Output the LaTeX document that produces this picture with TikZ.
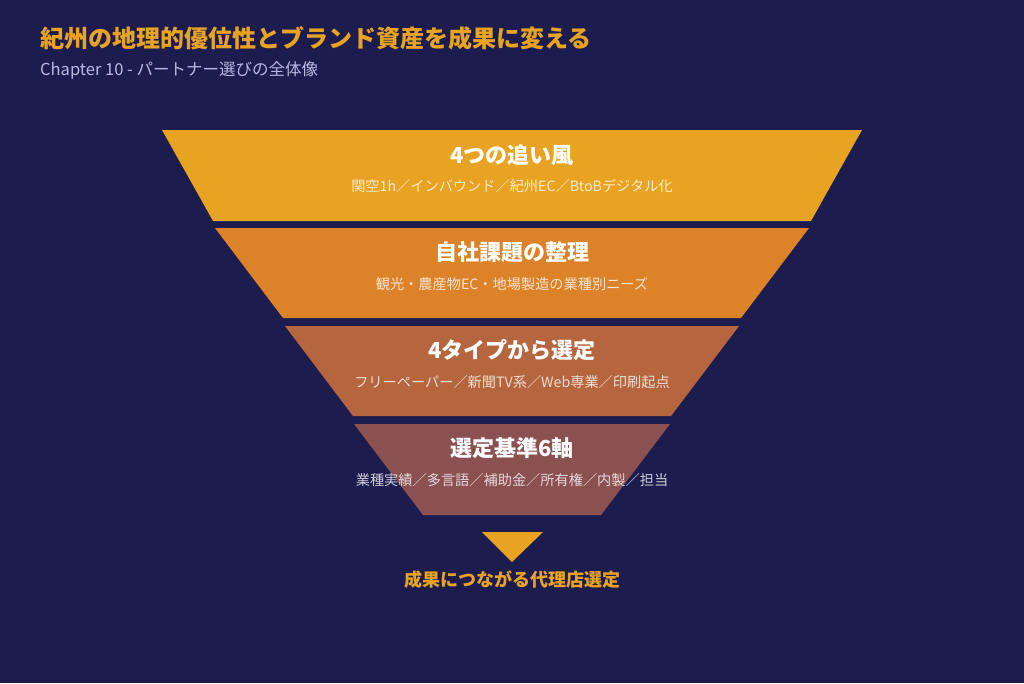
\documentclass[tikz,border=0pt]{standalone}
\usepackage{fontspec}
\setmainfont{Noto Sans CJK JP}
\usetikzlibrary{positioning}
\definecolor{bgnavy}{RGB}{29,28,79}
\definecolor{headline}{RGB}{232,163,34}
\definecolor{subhead}{RGB}{184,184,226}
\definecolor{bandone}{RGB}{232,163,34}
\definecolor{bandtwo}{RGB}{220,130,41}
\definecolor{bandthree}{RGB}{181,102,62}
\definecolor{bandfour}{RGB}{139,80,80}

\begin{document}
\begin{tikzpicture}[
    x=1pt, y=-1pt,
    headtitle/.style={anchor=west, inner sep=0pt, text=headline, font=\bfseries\fontsize{24}{28}\selectfont},
    headsub/.style={anchor=west, inner sep=0pt, text=subhead, font=\fontsize{16.5}{19}\selectfont},
    bandtitle/.style={inner sep=0pt, text=white, font=\bfseries\fontsize{22}{26}\selectfont},
    bandsub/.style={inner sep=0pt, text=white, text opacity=0.78, font=\fontsize{14.2}{17}\selectfont},
    result/.style={inner sep=0pt, text=headline, font=\bfseries\fontsize{18}{21}\selectfont}
]

% ---------- Background ----------
\fill[bgnavy] (0,0) rectangle (1024,683);
\useasboundingbox (0,0) rectangle (1024,683);

% ---------- Heading ----------
\node[headtitle] (title) at (40,38) {紀州の地理的優位性とブランド資産を成果に変える};
\node[headsub] (subtitle) at (40,70) {Chapter 10 - パートナー選びの全体像};

% ---------- Funnel bands ----------
\fill[bandone] (162,130) -- (862,130) -- (811,221) -- (213,221) -- cycle;
\fill[bandtwo] (215,228) -- (809,228) -- (741,318) -- (283,318) -- cycle;
\fill[bandthree] (285,326) -- (739,326) -- (671,416) -- (353,416) -- cycle;
\fill[bandfour] (354,424) -- (670,424) -- (601,515) -- (423,515) -- cycle;

% ---------- Band texts ----------
\node[bandtitle] (winds) at (512,155) {4つの追い風};
\node[bandsub] (windsub) at (512,186) {関空1h／インバウンド／紀州EC／BtoBデジタル化};

\node[bandtitle] (issues) at (512,252) {自社課題の整理};
\node[bandsub] (issuesub) at (512,284) {観光・農産物EC・地場製造の業種別ニーズ};

\node[bandtitle] (types) at (512,350) {4タイプから選定};
\node[bandsub] (typesub) at (512,382) {フリーペーパー／新聞TV系／Web専業／印刷起点};

\node[bandtitle] (criteria) at (512,448) {選定基準6軸};
\node[bandsub] (criteriasub) at (512,480) {業種実績／多言語／補助金／所有権／内製／担当};

% ---------- Result ----------
\fill[headline] (482,532) -- (543,532) -- (512,562) -- cycle;
\node[result] (outcome) at (512,580) {成果につながる代理店選定};

\end{tikzpicture}
\end{document}
